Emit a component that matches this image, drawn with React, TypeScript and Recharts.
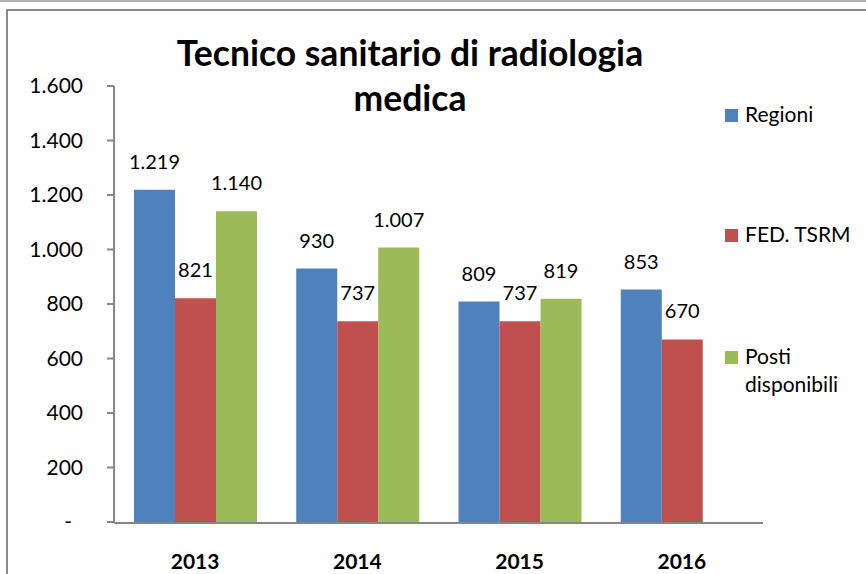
import React from 'react';
import { BarChart, Bar, XAxis, YAxis, Legend, LabelList } from 'recharts';

const years = ['2013', '2014', '2015', '2016'];
const regioni = [1219, 930, 809, 853];
const fedTsrm = [821, 737, 737, 670];
const posti: (number | null)[] = [1140, 1007, 819, null];
const yTicks = [0, 200, 400, 600, 800, 1000, 1200, 1400, 1600];
const edgeTicks = [0, 1, 2, 3, 4];
const seriesNames = ['Regioni', 'FED. TSRM', 'Posti disponibili'];
const seriesKeys = ['regioni', 'fed', 'posti'];
const colors = ['#4F81BD', '#C0504D', '#9BBB59'];
const titleLines = ['Tecnico sanitario di radiologia', 'medica'];

const data = years.map((y, i) => ({
  year: y,
  regioni: regioni[i],
  fed: fedTsrm[i],
  posti: posti[i],
  edge: i + 0.5,
}));

const FONT = 'Lato, "Open Sans", sans-serif';
const AXIS_GRAY = '#868686';

const fmt = (v: number) => String(v).replace(/\B(?=(\d{3})+(?!\d))/g, '.');

const YTick = (props: any) => {
  const { x, y, payload } = props;
  const v = payload.value;
  const isZero = v === 0;
  return (
    <text
      x={isZero ? x - 11 : x}
      y={y}
      dy={7}
      textAnchor="end"
      fontFamily={FONT}
      fontSize={21}
      fill="#000"
    >
      {isZero ? '-' : fmt(v)}
    </text>
  );
};

const XTick = (props: any) => {
  const { x, y, payload } = props;
  return (
    <text
      x={x}
      y={y}
      dy={16}
      textAnchor="middle"
      fontFamily={FONT}
      fontSize={21}
      fontWeight="bold"
      fill="#000"
    >
      {payload.value}
    </text>
  );
};

const ValueLabel = (props: any) => {
  const { x, y, width, value } = props;
  if (value == null) return null;
  return (
    <text
      x={x + width / 2}
      y={y - 21}
      textAnchor="middle"
      fontFamily={FONT}
      fontSize={20}
      fill="#000"
    >
      {fmt(value)}
    </text>
  );
};

const LegendContent = () => {
  const tops = [0, 120, 242];
  return (
    <div style={{ position: 'relative', width: 141, height: 320, fontFamily: FONT, fontSize: 21, color: '#000' }}>
      {seriesNames.map((name, i) => {
        const words = name === 'Posti disponibili' ? ['Posti', 'disponibili'] : [name];
        return (
          <div key={name} style={{ position: 'absolute', left: 0, top: tops[i] }}>
            <div style={{ position: 'absolute', left: 0, top: 9, width: 13, height: 13, background: colors[i] }} />
            <div style={{ position: 'absolute', left: 20, top: 0, lineHeight: '28px', whiteSpace: 'nowrap' }}>
              {words.map((w) => (
                <div key={w}>{w}</div>
              ))}
            </div>
          </div>
        );
      })}
    </div>
  );
};

export default function App() {
  return (
    <div style={{ position: 'absolute', left: 0, top: 0, width: 866, height: 574, overflow: 'hidden', background: '#fff' }}>
      <div style={{ position: 'absolute', left: 0, top: 0, width: 866, height: 2, background: '#b0b0b0' }} />
      <div style={{ position: 'absolute', left: 6, top: 9, width: 900, height: 600, border: '2px solid #8a8a8a', boxSizing: 'border-box' }} />
      <div style={{ position: 'absolute', left: 0, top: 0 }}>
        <BarChart
          width={866}
          height={574}
          data={data}
          margin={{ top: 86, right: 103, bottom: 50, left: 0 }}
          barCategoryGap={20}
          barGap={0}
        >
          <text x={410} y={66} textAnchor="middle" fontFamily={FONT} fontSize={35.5} fontWeight="bold" fill="#000">
            {titleLines[0]}
          </text>
          <text x={410} y={111} textAnchor="middle" fontFamily={FONT} fontSize={35.5} fontWeight="bold" fill="#000">
            {titleLines[1]}
          </text>
          <XAxis
            xAxisId="edges"
            type="number"
            dataKey="edge"
            domain={[0, 4]}
            ticks={edgeTicks}
            height={1}
            tick={false}
            tickSize={8}
            tickLine={{ stroke: AXIS_GRAY, strokeWidth: 2 }}
            axisLine={{ stroke: AXIS_GRAY, strokeWidth: 2 }}
            allowDataOverflow
          />
          <XAxis
            xAxisId="cat"
            dataKey="year"
            height={1}
            axisLine={false}
            tickLine={false}
            tickSize={0}
            tickMargin={31}
            tick={<XTick />}
            interval={0}
          />
          <YAxis
            width={114}
            domain={[0, 1600]}
            ticks={yTicks}
            interval={0}
            tickSize={7}
            tickMargin={24}
            tick={<YTick />}
            tickLine={{ stroke: AXIS_GRAY, strokeWidth: 2 }}
            axisLine={{ stroke: AXIS_GRAY, strokeWidth: 2 }}
          />
          <Legend
            layout="vertical"
            align="center"
            verticalAlign="middle"
            wrapperStyle={{ left: 725, top: 100, width: 141 }}
            content={<LegendContent />}
          />
          {seriesKeys.map((k, i) => (
            <Bar key={k} xAxisId="cat" dataKey={k} name={seriesNames[i]} fill={colors[i]} isAnimationActive={false}>
              <LabelList dataKey={k} content={<ValueLabel />} />
            </Bar>
          ))}
        </BarChart>
      </div>
    </div>
  );
}
